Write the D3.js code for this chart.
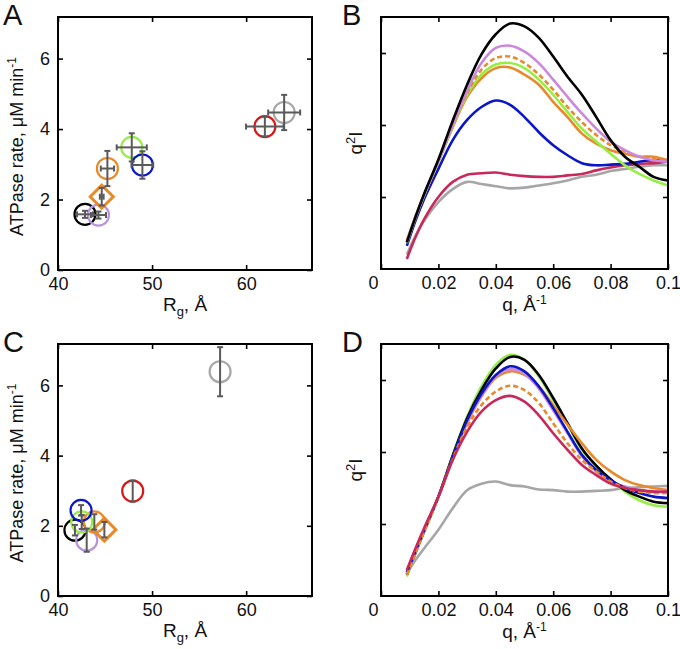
<!DOCTYPE html>
<html><head><meta charset="utf-8">
<script src="https://cdn.jsdelivr.net/npm/d3@7"></script>
<style>body{margin:0;background:#fff;} text{font-family:"Liberation Sans",Arial,sans-serif;fill:#111;}</style>
</head><body><svg id="c" width="680" height="649"></svg>
<script>
// ---------- data ----------
const sampleIds = ["s1","s2","s3","s4","s5","s6","s7","s8"];
const sampleShapes = ["circle","circle","diamond","circle","circle","circle","circle","circle"];
const sampleColors = ["#000000","#b794e0","#e8892b","#e8892b","#96ee44","#0a16c8","#d81818","#a8a8a8"];

const aRg      = [42.87, 44.30, 44.65, 45.25, 47.84, 48.97, 61.99, 64.04];
const aRgErr   = [0.85, 0.8, 0.2, 0.7, 1.6, 1.15, 2.0, 1.7];
const aRate    = [1.58, 1.56, 2.08, 2.88, 3.48, 2.98, 4.07, 4.47];
const aRateErr = [0.1, 0.1, 0.25, 0.5, 0.4, 0.39, 0.28, 0.5];

const cRg      = [41.80, 43.05, 44.93, 43.86, 42.52, 42.45, 47.94, 57.23];
const cRgErr   = [0, 0, 0, 0, 0, 0, 0, 0];
const cRate    = [1.875, 1.59, 1.89, 2.11, 2.11, 2.44, 2.99, 6.39];
const cRateErr = [0.15, 0.33, 0.22, 0.22, 0.2, 0.15, 0.3, 0.7];

const qValues = [0.009,0.012,0.015,0.02,0.025,0.03,0.035,0.04,0.045,0.05,0.055,0.06,0.065,0.07,0.075,0.08,0.085,0.09,0.095,0.1];

// panel B profiles (q^2 I, arbitrary units)
const bBlack  = [0.37,0.72,1.04,1.52,2.06,2.56,2.98,3.26,3.41,3.37,3.21,2.95,2.67,2.42,2.11,1.79,1.56,1.42,1.28,1.23];
const bViolet = [0.37,0.72,1.03,1.50,2.00,2.47,2.86,3.07,3.10,3.02,2.86,2.63,2.39,2.16,1.95,1.77,1.65,1.56,1.51,1.49];
const bOrangeDash = [0.38,0.72,1.03,1.50,1.99,2.44,2.77,2.93,2.95,2.86,2.70,2.49,2.25,2.04,1.86,1.72,1.63,1.56,1.53,1.51];
const bGreen  = [0.36,0.71,1.02,1.49,1.98,2.42,2.70,2.84,2.86,2.79,2.63,2.42,2.18,1.95,1.77,1.60,1.44,1.32,1.23,1.16];
const bOrange = [0.40,0.73,1.03,1.49,1.97,2.39,2.65,2.79,2.80,2.70,2.56,2.32,2.11,1.88,1.74,1.65,1.60,1.56,1.56,1.51];
const bBlue   = [0.32,0.67,0.97,1.39,1.79,2.07,2.25,2.34,2.28,2.11,1.90,1.72,1.58,1.47,1.44,1.45,1.46,1.49,1.51,1.49];
const bCrimson= [0.14,0.44,0.69,1.00,1.21,1.31,1.33,1.34,1.31,1.29,1.28,1.28,1.30,1.32,1.37,1.41,1.44,1.46,1.47,1.49];
const bGray   = [0.20,0.46,0.67,0.93,1.11,1.21,1.18,1.15,1.12,1.13,1.16,1.19,1.23,1.28,1.31,1.36,1.39,1.42,1.44,1.44];

// panel D profiles
const dBlack  = [0.30,0.60,0.90,1.38,1.95,2.47,2.86,3.16,3.32,3.28,3.07,2.75,2.40,2.05,1.81,1.62,1.47,1.38,1.31,1.29];
const dViolet = [0.30,0.60,0.90,1.38,1.92,2.42,2.78,3.05,3.15,3.09,2.88,2.58,2.26,1.94,1.73,1.59,1.52,1.47,1.45,1.45];
const dOrangeDash = [0.30,0.60,0.89,1.37,1.90,2.35,2.65,2.84,2.92,2.86,2.68,2.40,2.12,1.89,1.73,1.59,1.50,1.45,1.43,1.43];
const dGreen  = [0.27,0.59,0.89,1.38,1.96,2.49,2.91,3.21,3.35,3.28,3.05,2.72,2.38,2.03,1.80,1.61,1.45,1.33,1.26,1.24];
const dOrange = [0.31,0.61,0.90,1.38,1.92,2.40,2.77,3.03,3.12,3.07,2.91,2.65,2.38,2.12,1.89,1.73,1.61,1.54,1.50,1.47];
const dBlue   = [0.33,0.62,0.91,1.38,1.93,2.44,2.81,3.07,3.19,3.12,2.91,2.61,2.28,1.96,1.75,1.61,1.50,1.43,1.38,1.36];
const dCrimson= [0.36,0.66,0.94,1.38,1.89,2.28,2.56,2.72,2.78,2.70,2.51,2.26,2.03,1.82,1.68,1.56,1.50,1.47,1.45,1.45];
const dGray   = [0.31,0.50,0.66,0.92,1.22,1.47,1.56,1.59,1.54,1.52,1.48,1.47,1.45,1.45,1.46,1.47,1.50,1.51,1.52,1.53];

const rgTicks = [40, 50, 60];
const rateTicks = [0, 2, 4, 6];
const qTicks = [0, 0.02, 0.04, 0.06, 0.08, 0.1];
const qTickLabels = ["0", "0.02", "0.04", "0.06", "0.08", "0.1"];
const intensityTicks = [1, 2, 3];

// ---------- drawing ----------
const svg = d3.select("#c");
const FONT = 18;

function frame(p, xs, ys, xTicks, yTicks, xFmt, yFmt) {
  const g = svg.append("g");
  const ax = d3.axisBottom(xs).tickValues(xTicks).tickSize(-5).tickSizeOuter(0).tickPadding(7).tickFormat(xFmt);
  const gx = g.append("g").attr("transform", `translate(0,${p.b})`).call(ax);
  const ay = d3.axisLeft(ys).tickValues(yTicks).tickSize(-5).tickSizeOuter(0).tickPadding(8).tickFormat(yFmt);
  const gy = g.append("g").attr("transform", `translate(${p.l},0)`).call(ay);
  const at = d3.axisTop(xs).tickValues(xTicks).tickSize(-5).tickSizeOuter(0).tickFormat("");
  const gt = g.append("g").attr("transform", `translate(0,${p.t})`).call(at);
  const ar = d3.axisRight(ys).tickValues(yTicks).tickSize(-5).tickSizeOuter(0).tickFormat("");
  const gr = g.append("g").attr("transform", `translate(${p.r},0)`).call(ar);
  [gx, gy, gt, gr].forEach(s => {
    s.select(".domain").remove();
    s.selectAll("line").attr("stroke", "#000").attr("stroke-width", 1.6);
    s.selectAll("text").attr("font-size", FONT).attr("fill", "#111")
      .attr("font-family", '"Liberation Sans", Arial, sans-serif');
  });
  return {g, gx, gy};
}
function box(p) {
  svg.append("rect").attr("x", p.l).attr("y", p.t).attr("width", p.r - p.l).attr("height", p.b - p.t)
    .attr("fill", "none").attr("stroke", "#000").attr("stroke-width", 2);
}

function scatterPanel(p, rg, rgErr, rate, rateErr, letter) {
  const xs = d3.scaleLinear().domain([40, 67]).range([p.l, p.r]);
  const ys = d3.scaleLinear().domain([0, 7.18]).range([p.b, p.t]);
  frame(p, xs, ys, rgTicks, rateTicks, d3.format("d"), d3.format("d"));
  const R = 10.5;
  const pts = sampleIds.map((id, i) => ({id, x: rg[i], y: rate[i], xe: rgErr[i], ye: rateErr[i], shape: sampleShapes[i], color: sampleColors[i]}));
  const marks = svg.append("g");
  pts.forEach(d => {
    const cx = xs(d.x), cy = ys(d.y);
    if (d.shape === "circle") {
      marks.append("circle").attr("cx", cx).attr("cy", cy).attr("r", R)
        .attr("fill", "none").attr("stroke", d.color).attr("stroke-width", 2.2);
    } else {
      const s = 11.5;
      marks.append("path").attr("d", `M${cx},${cy - s}L${cx + s},${cy}L${cx},${cy + s}L${cx - s},${cy}Z`)
        .attr("fill", "none").attr("stroke", d.color).attr("stroke-width", 3);
    }
  });
  const eb = svg.append("g").attr("stroke", "#5a5a5a").attr("stroke-width", 2);
  pts.forEach(d => {
    const cx = xs(d.x), cy = ys(d.y);
    if (d.ye > 0) {
      const y1 = ys(d.y + d.ye), y2 = ys(d.y - d.ye);
      eb.append("line").attr("x1", cx).attr("x2", cx).attr("y1", y1).attr("y2", y2);
      eb.append("line").attr("x1", cx - 3).attr("x2", cx + 3).attr("y1", y1).attr("y2", y1);
      eb.append("line").attr("x1", cx - 3).attr("x2", cx + 3).attr("y1", y2).attr("y2", y2);
    }
    if (d.xe > 0) {
      const x1 = xs(d.x - d.xe), x2 = xs(d.x + d.xe);
      eb.append("line").attr("x1", x1).attr("x2", x2).attr("y1", cy).attr("y2", cy);
      eb.append("line").attr("x1", x1).attr("x2", x1).attr("y1", cy - 3).attr("y2", cy + 3);
      eb.append("line").attr("x1", x2).attr("x2", x2).attr("y1", cy - 3).attr("y2", cy + 3);
    }
  });
  box(p);
  // y title
  const yt = svg.append("text").attr("transform", `translate(23,${(p.t + p.b) / 2 + 3}) rotate(-90)`)
    .attr("text-anchor", "middle").attr("font-size", 18);
  yt.append("tspan").text("ATPase rate, \u03bcM min");
  yt.append("tspan").text("-1").attr("font-size", 12).attr("dy", -7);
  // x title
  const xt = svg.append("text").attr("x", (p.l + p.r) / 2).attr("y", p.b + 41).attr("text-anchor", "middle").attr("font-size", 19);
  xt.append("tspan").text("R");
  xt.append("tspan").text("g").attr("font-size", 13).attr("dy", 5);
  xt.append("tspan").text(", \u00c5").attr("dy", -5);
  svg.append("text").attr("x", 3).attr("y", p.t + 8).attr("font-size", 29).text(letter);
}

function profilePanel(p, series, letter) {
  const xs = d3.scaleLinear().domain([0, 0.1]).range([p.l, p.r]);
  const ys = d3.scaleLinear().domain([0, 3.5]).range([p.b, p.t]);
  const f = frame(p, xs, ys, qTicks, intensityTicks, (d, i) => qTickLabels[i], () => "");
  f.gx.selectAll(".tick text").filter((d, i) => i === 0).attr("dx", -8);
  const line = d3.line().x((d, i) => xs(qValues[i])).y(d => ys(d)).curve(d3.curveCatmullRom.alpha(0.5));
  const lg = svg.append("g").attr("fill", "none");
  series.forEach(s => {
    lg.append("path").attr("d", line(s.values)).attr("stroke", s.color).attr("stroke-width", 2.6)
      .attr("stroke-dasharray", s.dash ? "5,3" : null).attr("stroke-linejoin", "round");
  });
  box(p);
  const yt = svg.append("text").attr("transform", `translate(362,${(p.t + p.b) / 2}) rotate(-90)`)
    .attr("text-anchor", "middle").attr("font-size", 19);
  yt.append("tspan").text("q");
  yt.append("tspan").text("2").attr("font-size", 13).attr("dy", -7);
  yt.append("tspan").text("I").attr("dy", 7);
  const xt = svg.append("text").attr("x", (p.l + p.r) / 2).attr("y", p.b + 42).attr("text-anchor", "middle").attr("font-size", 19);
  xt.append("tspan").text("q, \u00c5");
  xt.append("tspan").text("-1").attr("font-size", 12).attr("dy", -7);
  svg.append("text").attr("x", 342).attr("y", p.t + 8).attr("font-size", 29).text(letter);
}

const pA = {l: 58, r: 312, t: 17, b: 270};
const pB = {l: 381, r: 668, t: 17, b: 269};
const pC = {l: 58, r: 312, t: 344, b: 596};
const pD = {l: 381, r: 668, t: 344, b: 596};

scatterPanel(pA, aRg, aRgErr, aRate, aRateErr, "A");
scatterPanel(pC, cRg, cRgErr, cRate, cRateErr, "C");

profilePanel(pB, [
  {values: bGray, color: "#a6a6a6"},
  {values: bCrimson, color: "#c8285a"},
  {values: bBlue, color: "#0a16c8"},
  {values: bOrange, color: "#e8892b"},
  {values: bGreen, color: "#96ee44"},
  {values: bOrangeDash, color: "#e8892b", dash: true},
  {values: bViolet, color: "#cc88dd"},
  {values: bBlack, color: "#000000"}
], "B");

profilePanel(pD, [
  {values: dGray, color: "#a6a6a6"},
  {values: dGreen, color: "#96ee44"},
  {values: dBlack, color: "#000000"},
  {values: dOrange, color: "#e8892b"},
  {values: dViolet, color: "#cc88dd"},
  {values: dBlue, color: "#0a16c8"},
  {values: dOrangeDash, color: "#e8892b", dash: true},
  {values: dCrimson, color: "#c8285a"}
], "D");
</script></body></html>
